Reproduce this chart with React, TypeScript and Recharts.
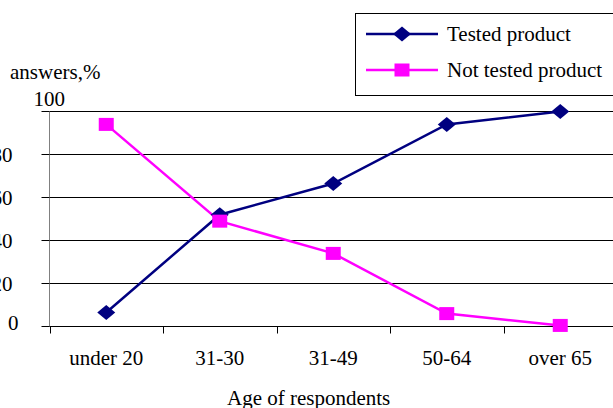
import * as React from "react";
import { LineChart, Line, XAxis, YAxis, CartesianGrid, Legend } from "recharts";

const ages = ["under 20", "31-30", "31-49", "50-64", "over 65"];
const tested = [6.5, 52, 66.5, 94, 100];
const notTested = [94, 49, 34, 6, 0.5];
const yTicks = [0, 20, 40, 60, 80, 100];
const seriesOrder = ["Tested product", "Not tested product"];

const NAVY = "#000080";
const PINK = "#ff00ff";
const FONT = '"Liberation Serif", Tinos, "Times New Roman", "DejaVu Serif", serif';

const data = ages.map((age, i) => ({
  age,
  tested: tested[i],
  notTested: notTested[i],
}));

const Diamond = ({ cx, cy, fill }: any) => (
  <polygon
    points={`${cx},${cy - 7.5} ${cx + 9},${cy} ${cx},${cy + 7.5} ${cx - 9},${cy}`}
    fill={fill}
  />
);

const Square = ({ cx, cy, fill }: any) => (
  <rect x={cx - 7.5} y={cy - 6.5} width={15} height={13} fill={fill} />
);

// y labels: the left edge of the original is cropped, 100 sits above the top line
const YTick = (props: any) => {
  const { x, y, payload } = props;
  const v = payload.value;
  if (v === 100) {
    return (
      <text x={x - 8} y={y - 13} dy="0.35em" textAnchor="start" fill="#000" fontSize={21} fontFamily={FONT}>
        100
      </text>
    );
  }
  return (
    <text
      x={v === 0 ? x - 23 : x - 29}
      y={v === 0 ? y - 4 : y}
      dy="0.35em"
      textAnchor="end"
      fill="#000"
      fontSize={21}
      fontFamily={FONT}
    >
      {v}
    </text>
  );
};

// labels between tick marks (Excel style): tick line at band start
const XTick = (props: any) => {
  const { x, y, payload } = props;
  const half = payload.offset ?? 56.75;
  const bx = Math.round(x - half) + 0.5;
  return (
    <g>
      <line x1={bx} x2={bx} y1={y - 7} y2={y} stroke="#000" />
      <text x={x} y={y + 31} textAnchor="middle" fill="#000" fontSize={21} fontFamily={FONT}>
        {payload.value}
      </text>
    </g>
  );
};

const LegendBox = (props: any) => {
  const items = [...(props.payload || [])].sort(
    (a: any, b: any) => seriesOrder.indexOf(a.value) - seriesOrder.indexOf(b.value)
  );
  return (
    <div
      style={{
        width: 300,
        height: 81,
        border: "1px solid #000",
        background: "#fff",
        position: "relative",
        fontFamily: FONT,
        fontSize: 21,
      }}
    >
      {items.map((it: any, i: number) => (
        <div
          key={it.value}
          style={{ position: "absolute", left: 10, top: 8 + i * 36, height: 24, display: "flex", alignItems: "center" }}
        >
          <svg width={72} height={20}>
            <line x1={0} x2={72} y1={10} y2={10} stroke={it.color} strokeWidth={2.5} />
            {it.dataKey === "tested" ? (
              <Diamond cx={36} cy={10} fill={it.color} />
            ) : (
              <Square cx={36} cy={10} fill={it.color} />
            )}
          </svg>
          <span style={{ marginLeft: 9, whiteSpace: "nowrap", lineHeight: "24px" }}>{it.value}</span>
        </div>
      ))}
    </div>
  );
};

export default function App() {
  return (
    <div
      style={{
        position: "absolute",
        left: 0,
        top: 0,
        width: 613,
        height: 408,
        overflow: "hidden",
        background: "#fff",
        fontFamily: FONT,
      }}
    >
      <LineChart
        width={625}
        height={408}
        data={data}
        margin={{ top: 111.5, right: 8, bottom: 0, left: 0 }}
      >
        <CartesianGrid horizontal vertical={false} stroke="#000" strokeWidth={1} />
        <XAxis
          dataKey="age"
          scale="band"
          height={81.5}
          tickSize={7}
          tickMargin={0}
          tickLine={false}
          axisLine={{ stroke: "#000" }}
          tick={<XTick />}
          interval={0}
        />
        <YAxis
          width={49.5}
          domain={[0, 100]}
          ticks={yTicks}
          tickSize={8}
          tickMargin={0}
          axisLine={{ stroke: "#808080" }}
          tickLine={{ stroke: "#000" }}
          tick={<YTick />}
          interval={0}
        />
        <Legend
          layout="vertical"
          align="center"
          verticalAlign="middle"
          wrapperStyle={{ left: 355, top: 13, width: 300 }}
          content={<LegendBox />}
        />
        <Line
          type="linear"
          dataKey="tested"
          name="Tested product"
          stroke={NAVY}
          strokeWidth={2.5}
          dot={<Diamond fill={NAVY} />}
          activeDot={false}
          isAnimationActive={false}
        />
        <Line
          type="linear"
          dataKey="notTested"
          name="Not tested product"
          stroke={PINK}
          strokeWidth={2.5}
          dot={<Square fill={PINK} />}
          activeDot={false}
          isAnimationActive={false}
        />
      </LineChart>
      <div style={{ position: "absolute", left: 10, top: 60, fontSize: 21, lineHeight: "24px", whiteSpace: "nowrap" }}>
        answers,%
      </div>
      <div style={{ position: "absolute", left: 227, top: 386, fontSize: 21, lineHeight: "24px", whiteSpace: "nowrap" }}>
        Age of respondents
      </div>
    </div>
  );
}
